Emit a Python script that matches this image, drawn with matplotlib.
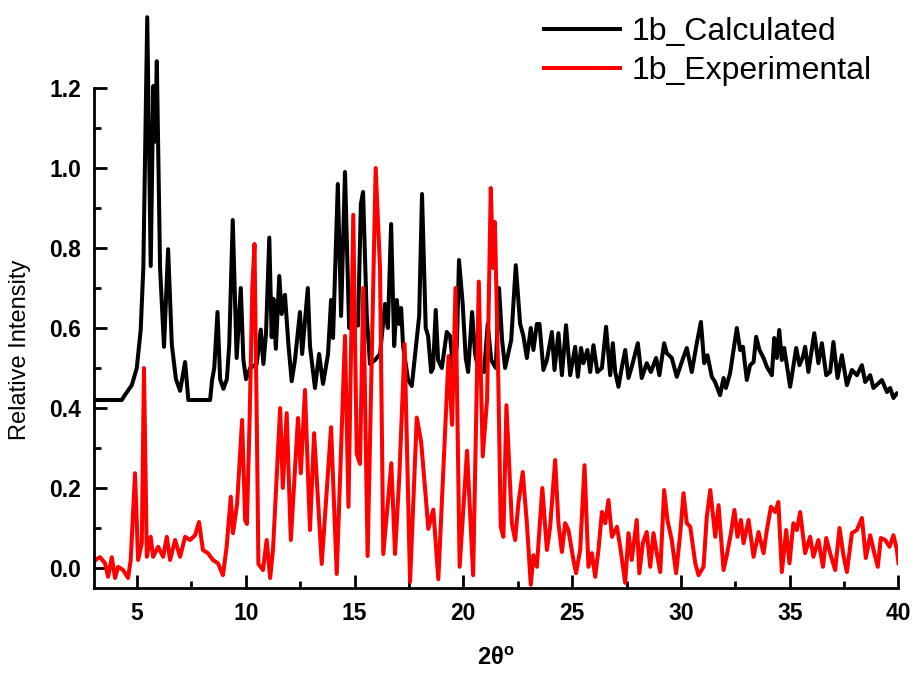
#!/usr/bin/env python3

import matplotlib
matplotlib.use('Agg')
import matplotlib.pyplot as plt
from matplotlib.ticker import MultipleLocator, FixedLocator

# calculated pattern (2theta, intensity)
calc_x = [3.00, 4.30, 4.45, 4.76, 4.99, 5.17, 5.29, 5.47, 5.63, 5.75, 5.83, 5.91,
          6.06, 6.24, 6.43, 6.60, 6.79, 6.98, 7.21, 7.36, 8.36, 8.45, 8.55, 8.70,
          8.82, 8.97, 9.13, 9.24, 9.40, 9.58, 9.77, 9.89, 10.01, 10.20, 10.50, 10.69,
          10.81, 10.93, 11.08, 11.19, 11.27, 11.38, 11.54, 11.65, 11.80, 11.96, 12.11, 12.26,
          12.49, 12.59, 12.85, 12.95, 13.18, 13.37, 13.55, 13.78, 13.92, 14.01, 14.23, 14.38,
          14.56, 14.75, 14.93, 15.16, 15.29, 15.39, 15.56, 15.71, 15.94, 16.17, 16.40, 16.53,
          16.68, 16.82, 16.94, 17.05, 17.14, 17.23, 17.46, 17.63, 17.86, 17.97, 18.10, 18.27,
          18.38, 18.52, 18.61, 18.73, 18.84, 19.01, 19.24, 19.39, 19.53, 19.70, 19.80, 19.97,
          20.11, 20.22, 20.40, 20.54, 20.68, 20.95, 21.12, 21.28, 21.49, 21.64, 21.78, 21.92,
          22.20, 22.41, 22.61, 22.76, 22.92, 23.10, 23.22, 23.38, 23.50, 23.68, 23.84, 24.07,
          24.19, 24.37, 24.53, 24.72, 24.91, 25.14, 25.26, 25.41, 25.52, 25.70, 25.83, 25.98,
          26.16, 26.37, 26.56, 26.75, 26.87, 26.98, 27.13, 27.29, 27.44, 27.59, 27.74, 28.02,
          28.20, 28.43, 28.62, 28.86, 29.01, 29.23, 29.35, 29.58, 29.81, 30.04, 30.27, 30.50,
          30.73, 30.92, 31.07, 31.22, 31.42, 31.57, 31.80, 31.96, 32.07, 32.26, 32.42, 32.57,
          32.72, 32.85, 33.03, 33.18, 33.34, 33.46, 33.61, 33.80, 33.95, 34.18, 34.29, 34.41,
          34.52, 34.64, 34.75, 35.02, 35.30, 35.45, 35.61, 35.71, 35.86, 36.13, 36.32, 36.48,
          36.68, 36.86, 37.01, 37.20, 37.40, 37.63, 37.86, 38.09, 38.32, 38.47, 38.70, 38.85,
          39.24, 39.47, 39.62, 39.77, 39.93, 40.00]
calc_y = [0.420, 0.420, 0.433, 0.457, 0.500, 0.596, 0.750, 1.377, 0.755, 1.205, 1.066, 1.267,
          0.750, 0.553, 0.797, 0.558, 0.472, 0.443, 0.515, 0.420, 0.420, 0.470, 0.500, 0.640,
          0.472, 0.448, 0.472, 0.558, 0.870, 0.525, 0.700, 0.520, 0.472, 0.500, 0.510, 0.596,
          0.510, 0.587, 0.826, 0.577, 0.673, 0.548, 0.730, 0.635, 0.683, 0.558, 0.467, 0.520,
          0.640, 0.535, 0.700, 0.555, 0.450, 0.535, 0.460, 0.535, 0.670, 0.575, 0.960, 0.630,
          0.990, 0.600, 0.620, 0.606, 0.910, 0.940, 0.630, 0.510, 0.520, 0.535, 0.660, 0.600,
          0.860, 0.555, 0.670, 0.610, 0.650, 0.555, 0.470, 0.455, 0.575, 0.630, 0.935, 0.600,
          0.580, 0.490, 0.500, 0.645, 0.520, 0.500, 0.590, 0.580, 0.500, 0.555, 0.770, 0.660,
          0.525, 0.490, 0.640, 0.535, 0.500, 0.490, 0.610, 0.520, 0.500, 0.700, 0.570, 0.500,
          0.570, 0.757, 0.610, 0.580, 0.525, 0.600, 0.545, 0.610, 0.610, 0.495, 0.520, 0.590,
          0.495, 0.587, 0.482, 0.607, 0.482, 0.553, 0.478, 0.550, 0.512, 0.545, 0.490, 0.557,
          0.490, 0.500, 0.603, 0.482, 0.562, 0.490, 0.453, 0.503, 0.545, 0.475, 0.503, 0.562,
          0.475, 0.512, 0.490, 0.525, 0.482, 0.562, 0.537, 0.525, 0.478, 0.515, 0.550, 0.490,
          0.562, 0.615, 0.512, 0.532, 0.478, 0.465, 0.432, 0.475, 0.450, 0.487, 0.545, 0.600,
          0.545, 0.553, 0.470, 0.507, 0.515, 0.578, 0.545, 0.525, 0.503, 0.482, 0.575, 0.525,
          0.595, 0.520, 0.550, 0.453, 0.550, 0.507, 0.528, 0.553, 0.490, 0.587, 0.512, 0.562,
          0.482, 0.490, 0.565, 0.475, 0.532, 0.457, 0.495, 0.482, 0.507, 0.465, 0.482, 0.450,
          0.470, 0.440, 0.450, 0.425, 0.437, 0.435]

# experimental pattern
exp_x = [3.00, 3.07, 3.30, 3.53, 3.67, 3.84, 3.99, 4.13, 4.36, 4.59, 4.71, 4.91,
         5.05, 5.22, 5.32, 5.45, 5.63, 5.74, 5.97, 6.20, 6.37, 6.52, 6.75, 6.98,
         7.21, 7.44, 7.67, 7.85, 8.03, 8.26, 8.49, 8.72, 8.95, 9.12, 9.31, 9.41,
         9.60, 9.83, 9.97, 10.05, 10.18, 10.30, 10.40, 10.52, 10.58, 10.79, 10.96, 11.12,
         11.25, 11.58, 11.70, 11.88, 12.07, 12.40, 12.53, 12.72, 12.95, 13.14, 13.49, 13.92,
         14.18, 14.56, 14.72, 14.94, 15.10, 15.25, 15.40, 15.60, 15.97, 16.17, 16.32, 16.69,
         16.86, 17.06, 17.30, 17.55, 17.86, 18.06, 18.26, 18.39, 18.62, 18.85, 19.32, 19.48,
         19.64, 19.83, 20.17, 20.45, 20.71, 20.89, 21.09, 21.26, 21.37, 21.45, 21.61, 21.72,
         21.84, 21.98, 22.23, 22.38, 22.53, 22.73, 22.92, 23.10, 23.22, 23.38, 23.63, 23.84,
         23.99, 24.22, 24.37, 24.53, 24.68, 24.83, 25.06, 25.18, 25.37, 25.57, 25.75, 25.91,
         26.06, 26.21, 26.37, 26.52, 26.67, 26.83, 27.06, 27.21, 27.44, 27.59, 27.74, 27.97,
         28.09, 28.25, 28.43, 28.59, 28.74, 28.89, 29.05, 29.23, 29.38, 29.58, 29.78, 29.97,
         30.12, 30.27, 30.43, 30.66, 30.81, 31.04, 31.19, 31.35, 31.58, 31.73, 31.96, 32.11,
         32.30, 32.46, 32.60, 32.76, 32.88, 33.11, 33.34, 33.57, 33.80, 33.95, 34.14, 34.33,
         34.48, 34.64, 34.84, 34.99, 35.17, 35.33, 35.48, 35.71, 35.94, 36.09, 36.32, 36.53,
         36.68, 36.86, 37.09, 37.29, 37.47, 37.63, 37.86, 38.09, 38.32, 38.50, 38.70, 38.89,
         39.05, 39.19, 39.39, 39.59, 39.77, 39.93, 40.00]
exp_y = [0.010, 0.020, 0.027, 0.012, -0.022, 0.027, -0.025, 0.003, -0.005, -0.025, 0.020, 0.237,
         0.020, 0.062, 0.500, 0.028, 0.078, 0.028, 0.053, 0.028, 0.078, 0.020, 0.070, 0.028,
         0.078, 0.070, 0.082, 0.115, 0.045, 0.037, 0.020, 0.012, -0.018, 0.053, 0.178, 0.087,
         0.160, 0.370, 0.120, 0.110, 0.380, 0.700, 0.810, 0.300, 0.010, -0.005, 0.070, -0.025,
         0.045, 0.400, 0.200, 0.387, 0.070, 0.375, 0.237, 0.445, 0.095, 0.337, 0.010, 0.352,
         -0.015, 0.580, 0.153, 0.883, 0.285, 0.260, 0.700, 0.030, 1.000, 0.750, 0.035, 0.262,
         0.035, 0.232, 0.560, -0.035, 0.376, 0.315, 0.186, 0.098, 0.146, -0.028, 0.530, 0.358,
         0.700, 0.003, 0.293, -0.018, 0.716, 0.279, 0.420, 0.950, 0.750, 0.865, 0.460, 0.103,
         0.078, 0.407, 0.112, 0.070, 0.162, 0.240, 0.112, -0.042, 0.032, 0.003, 0.200, 0.045,
         0.103, 0.270, 0.112, 0.040, 0.112, 0.095, 0.020, -0.013, 0.045, 0.257, 0.003, 0.037,
         -0.022, 0.045, 0.140, 0.112, 0.170, 0.078, 0.103, 0.053, -0.037, 0.087, 0.020, 0.120,
         -0.013, 0.062, 0.090, 0.003, 0.087, 0.037, -0.010, 0.195, 0.120, 0.070, -0.013, 0.087,
         0.187, 0.112, 0.103, 0.012, -0.018, 0.003, 0.128, 0.195, 0.078, 0.157, -0.005, 0.032,
         0.087, 0.145, 0.078, 0.120, 0.062, 0.120, 0.028, 0.090, 0.037, 0.095, 0.153, 0.140,
         0.165, -0.010, 0.095, 0.012, 0.112, 0.095, 0.140, 0.037, 0.078, 0.028, 0.070, 0.003,
         0.075, 0.037, -0.005, 0.100, 0.032, -0.010, 0.087, 0.095, 0.125, 0.025, 0.082, 0.037,
         0.003, 0.075, 0.070, 0.053, 0.082, 0.045, 0.012]

if __name__ == '__main__':
    plt.rcParams['font.family'] = ['Liberation Sans', 'DejaVu Sans']
    plt.rcParams['mathtext.default'] = 'regular'

    fig = plt.figure(figsize=(9.14, 6.73), dpi=100)
    ax = fig.add_axes([0.1023, 0.1263, 0.8807, 0.8737])

    ax.plot(calc_x, calc_y, color='black', lw=2.9, label='1b_Calculated')
    ax.plot(exp_x, exp_y, color='red', lw=2.9, label='1b_Experimental')

    ax.set_xlim(3, 40)
    ax.set_ylim(-0.05, 1.42)
    ax.spines['top'].set_visible(False)
    ax.spines['right'].set_visible(False)
    ax.spines['left'].set_bounds(-0.05, 1.2)
    for s in ['left', 'bottom']:
        ax.spines[s].set_linewidth(2.0)

    ax.set_xticks([5, 10, 15, 20, 25, 30, 35, 40])
    ax.xaxis.set_minor_locator(MultipleLocator(2.5))
    ax.set_yticks([0.0, 0.2, 0.4, 0.6, 0.8, 1.0, 1.2])
    ax.set_yticklabels(['0.0', '0.2', '0.4', '0.6', '0.8', '1.0', '1.2'])
    ax.yaxis.set_minor_locator(FixedLocator([0.1, 0.3, 0.5, 0.7, 0.9, 1.1]))
    ax.tick_params(which='both', direction='in', width=2.0, labelsize=16.5)
    ax.tick_params(which='major', length=9.5)
    ax.tick_params(which='minor', length=5)
    ax.tick_params(axis='y', pad=9)
    ax.tick_params(axis='x', pad=10)
    for lab in ax.get_xticklabels() + ax.get_yticklabels():
        lab.set_fontweight('bold')

    ax.set_xlabel('2θ$^{o}$', fontsize=17, fontweight='bold', labelpad=16)
    ax.set_ylabel('Relative Intensity', fontsize=17)
    ax.yaxis.set_label_coords(-0.0775, 0.405)

    fig.legend(loc='upper left', bbox_to_anchor=(0.595, 0.975), frameon=False,
               fontsize=23, handlelength=2.4, handletextpad=0.35,
               borderpad=0, borderaxespad=0, labelspacing=0.28)

    fig.savefig('out.png', dpi=100)
